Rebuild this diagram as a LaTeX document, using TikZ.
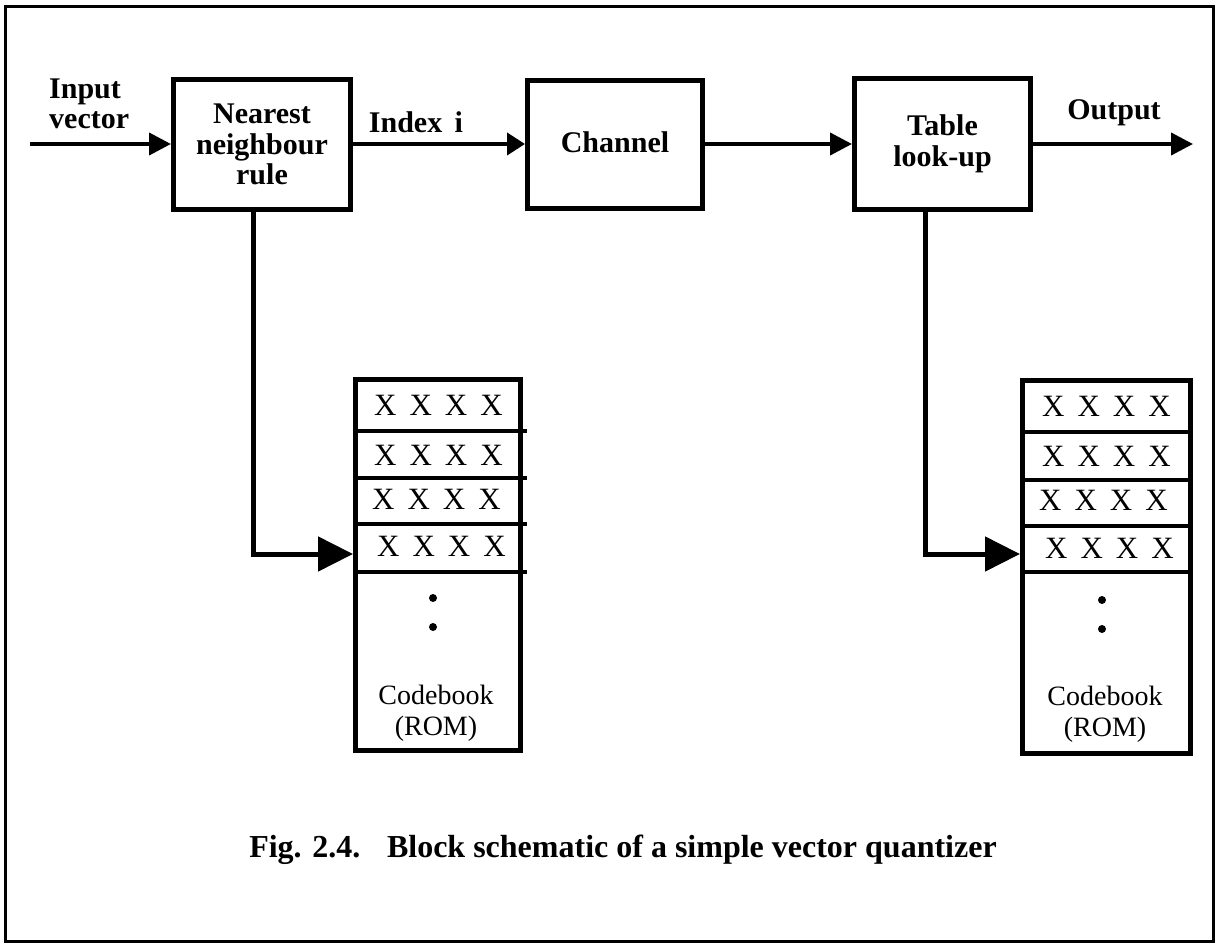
\documentclass[tikz,border=0pt]{standalone}
\usepackage{fontspec}
\setmainfont{Liberation Serif}
\usetikzlibrary{arrows.meta}
\newcommand\lblfont{\fontsize{30}{30.5}\selectfont\bfseries}
\newcommand\xfont{\fontsize{31}{31}\selectfont}
\newcommand\cbfont{\fontsize{28}{31}\selectfont}
\newcommand\xrowtext{X\hspace{13pt}X\hspace{13pt}X\hspace{13pt}X}
\begin{document}
\begin{tikzpicture}[x=1pt,y=-1pt,
  block/.style={draw,line width=5pt,inner sep=0pt,align=center,font=\lblfont},
  lbl/.style={inner sep=0pt,align=center,font=\lblfont},
  book/.style={draw,line width=5pt,inner sep=0pt},
  sep/.style={line width=4pt},
  xrow/.style={inner sep=0pt,font=\xfont},
  conn/.style={line width=4pt,-{Triangle[length=22pt,width=22pt]}},
  connshort/.style={line width=4pt,-{Triangle[length=18pt,width=22pt]}},
  bigconn/.style={line width=5pt,-{Triangle[length=35pt,width=34pt]}},
  dot/.style={fill=black}]
\useasboundingbox (0,0) rectangle (1218,944);
% frame
\draw[line width=3pt] (5,7) rectangle (1213,941);

% blocks
\node[block,minimum width=177pt,minimum height=130pt] (nn) at (262,144.5) {Nearest\\neighbour\\rule};
\node[block,minimum width=175pt,minimum height=128pt] (ch) at (615,144.5) {\raisebox{4pt}{Channel}};
\node[block,minimum width=176pt,minimum height=131pt] (tl) at (942.5,144) {Table\\look-up};

% labels
\node[lbl,align=left,anchor=west] (inlbl) at (49,104) {Input\\vector};
\node[lbl] (idx) at (416,122) {Index\, i};
\node[lbl] (outlbl) at (1114,113) {Output};

% main connectors
\coordinate (in) at (30,144);
\coordinate (out) at (1193,144);
\draw[conn] (in) -- (nn.west |- in);
\draw[connshort] (nn.east |- in) -- (ch.west |- in);
\draw[conn] (ch.east |- in) -- (tl.west |- in);
\draw[conn] (tl.east |- out) -- (out);

% codebooks
\node[book,minimum width=165pt,minimum height=371pt] (cbA) at (438,565) {};
\node[book,minimum width=168pt,minimum height=373pt] (cbB) at (1106.5,567) {};

% separators
\foreach \yy in {431,478,524,572} \draw[sep] (355,\yy) -- (527,\yy);
\foreach \yy in {432,480,526,572} \draw[sep] (1022,\yy) -- (1191,\yy);

% X rows
\node[xrow] (a1) at (438.5,405) {\xrowtext};
\node[xrow] (a2) at (438.5,455) {\xrowtext};
\node[xrow] (a3) at (436.5,499) {\xrowtext};
\node[xrow] (a4) at (441.5,546) {\xrowtext};
\node[xrow] (b1) at (1106.5,406) {\xrowtext};
\node[xrow] (b2) at (1106.5,456) {\xrowtext};
\node[xrow] (b3) at (1103.5,500) {\xrowtext};
\node[xrow] (b4) at (1109.5,548) {\xrowtext};

% dots
\fill[dot] (433,598) circle (4);
\fill[dot] (433,627) circle (4);
\fill[dot] (1102,600) circle (4);
\fill[dot] (1102,629) circle (4);

% codebook labels
\node[inner sep=0pt,align=center,font=\cbfont] (cbAl) at (436,713) {Codebook\\(ROM)};
\node[inner sep=0pt,align=center,font=\cbfont] (cbBl) at (1105,714) {Codebook\\(ROM)};

% connectors to codebooks
\coordinate (kA) at (253,554);
\coordinate (kB) at (925,554);
\draw[bigconn] (nn.south -| kA) -- (kA) -- (cbA.west |- kA);
\draw[bigconn] (tl.south -| kB) -- (kB) -- (cbB.west |- kB);

% caption
\node[inner sep=0pt,font=\fontsize{32}{32}\selectfont\bfseries] (cap) at (623,850) {Fig. 2.4.\hspace{0.5em} Block schematic of a simple vector quantizer};
\end{tikzpicture}
\end{document}
